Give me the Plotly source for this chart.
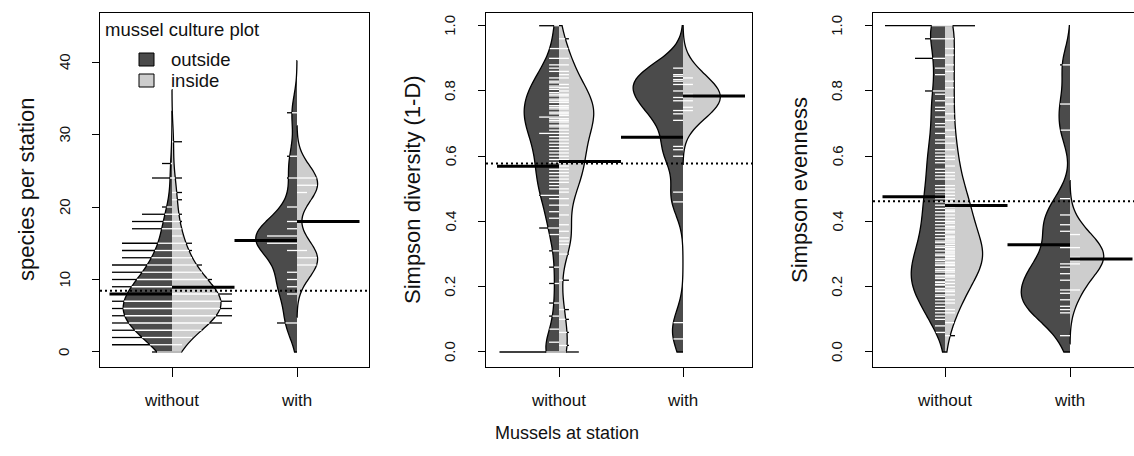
import numpy as np
import plotly.graph_objects as go

W, H = 1134, 456

stations = ["without", "with"]          # mussels at station
culture_plot = ["outside", "inside"]    # position relative to the mussel culture plot

# ---- species per station (integer counts, stored as value / frequency tables) ----
species_wo_out_vals = [0, 1, 2, 3, 4, 5, 6, 7, 8, 9, 10, 11, 12, 13, 14, 15, 17, 18, 19, 20, 24, 26]
species_wo_out_freq = [2, 6, 10, 13, 15, 17, 17, 17, 15, 13, 10, 8, 7, 5, 5, 5, 4, 4, 3, 1, 2, 1]
species_wo_in_vals = [0, 1, 2, 3, 4, 5, 6, 7, 8, 9, 10, 11, 12, 13, 14, 15, 16, 17, 18, 19, 21, 22, 24, 29]
species_wo_in_freq = [1, 1, 2, 3, 5, 7, 8, 8, 7, 5, 4, 3, 3, 2, 2, 2, 1, 1, 1, 1, 1, 1, 1, 1]
species_w_out = [4, 4, 8, 9, 10, 11, 14, 15, 15, 15, 16, 16, 16, 17, 18, 20, 24, 27, 33]
species_w_in = [12, 12, 13, 13, 14, 22, 23, 23, 24, 24]

# ---- Simpson diversity (1-D) ----
simpson_wo_out = [0, 0, 0, 0, 0, 0,
                  0.03, 0.07, 0.11, 0.15, 0.21, 0.26, 0.31, 0.36, 0.38, 0.38,
                  0.41, 0.43, 0.45, 0.47, 0.48, 0.48, 0.50, 0.51, 0.52, 0.53, 0.54, 0.55, 0.56,
                  0.57,
                  0.58, 0.59, 0.60, 0.61, 0.62,
                  0.63, 0.64, 0.65, 0.66, 0.67, 0.67,
                  0.68, 0.69, 0.695, 0.705, 0.71, 0.715, 0.72, 0.72, 0.73,
                  0.735, 0.745, 0.75, 0.755, 0.765, 0.77, 0.775, 0.785, 0.79, 0.795, 0.805,
                  0.81, 0.815, 0.825, 0.83, 0.84, 0.86,
                  0.87, 0.88, 0.90, 0.93, 1.0, 1.0]
simpson_wo_in = [0, 0,
                 0.02, 0.06, 0.10, 0.13, 0.22, 0.30, 0.33, 0.34, 0.35, 0.37, 0.39, 0.42,
                 0.45, 0.47, 0.49, 0.50, 0.52, 0.53, 0.54, 0.55, 0.56, 0.57, 0.58,
                 0.59,
                 0.60, 0.61, 0.62, 0.63, 0.64,
                 0.65, 0.66, 0.67, 0.68, 0.69, 0.695, 0.705,
                 0.71, 0.715, 0.725, 0.73, 0.735, 0.745, 0.75, 0.755, 0.765,
                 0.77, 0.775, 0.785, 0.79, 0.80, 0.81,
                 0.82, 0.84, 0.85, 0.86, 0.88, 0.90, 0.93, 0.96]
simpson_w_out = [0.04, 0.09, 0.46, 0.49, 0.60, 0.62, 0.63, 0.71, 0.73, 0.74,
                 0.77, 0.78, 0.80, 0.82, 0.83, 0.835, 0.845, 0.85, 0.87]
simpson_w_in = [0.74, 0.75, 0.77, 0.78, 0.79, 0.82, 0.84]

# ---- Simpson evenness ----
evenness_wo_out = [0.06, 0.08, 0.10, 0.11, 0.12,
                   0.13, 0.14, 0.15, 0.16, 0.17, 0.175, 0.185,
                   0.19, 0.195, 0.205, 0.207, 0.213, 0.215, 0.225, 0.23, 0.235, 0.245,
                   0.25, 0.255, 0.265, 0.267, 0.273, 0.28, 0.285, 0.295,
                   0.30, 0.31, 0.32, 0.325, 0.335, 0.34,
                   0.35, 0.36, 0.37, 0.38, 0.39,
                   0.40, 0.41, 0.42, 0.43, 0.44,
                   0.45, 0.46, 0.47, 0.48, 0.49,
                   0.50, 0.51, 0.53, 0.54, 0.55, 0.56, 0.58, 0.59,
                   0.60, 0.61, 0.62, 0.64, 0.65, 0.67, 0.69,
                   0.70, 0.72, 0.74, 0.75, 0.77, 0.79, 0.80, 0.80,
                   0.85, 0.87, 0.90, 0.90, 0.90, 0.96, 0.96,
                   1.0, 1.0, 1.0, 1.0, 1.0, 1.0]
evenness_wo_in = [0.05, 0.09, 0.12,
                  0.13, 0.15, 0.16, 0.175, 0.185,
                  0.19, 0.20, 0.21, 0.22, 0.23, 0.235, 0.245,
                  0.25, 0.255, 0.265, 0.267, 0.273, 0.275, 0.285, 0.287, 0.293,
                  0.297, 0.303, 0.307, 0.313, 0.317, 0.323, 0.33, 0.337, 0.343,
                  0.35, 0.355, 0.365, 0.37, 0.38, 0.385, 0.395,
                  0.40, 0.41, 0.42, 0.43, 0.435, 0.445,
                  0.45, 0.46, 0.47, 0.48, 0.49,
                  0.50, 0.51, 0.53, 0.54, 0.55, 0.57, 0.59,
                  0.60, 0.62, 0.64, 0.66, 0.68, 0.71, 0.73, 0.76, 0.78,
                  0.81, 0.83, 0.86, 0.88, 0.91, 0.93, 0.96,
                  1.0, 1.0, 1.0]
evenness_w_out = [0.05, 0.12, 0.13, 0.14, 0.16, 0.18, 0.19, 0.22, 0.24, 0.26,
                  0.27, 0.32, 0.37, 0.39, 0.42, 0.47, 0.68, 0.76, 0.88]
evenness_w_in = [0.19, 0.27, 0.28, 0.29, 0.32, 0.36]

# mean over all stations (dotted reference line), one per panel
all_station_mean = [8.45, 0.578, 0.462]

species_ticks = [0, 10, 20, 30, 40]
index_ticks = [0.0, 0.2, 0.4, 0.6, 0.8, 1.0]

# ---------------------------------------------------------------- styling
FONT = "Liberation Sans, Arial, sans-serif"
INK = "#111111"
FILL = {"outside": "#4b4b4b", "inside": "#cdcdcd"}
SIDE = {"outside": "negative", "inside": "positive"}
SIGN = {"outside": -1, "inside": 1}
TICK_UNIT = 0.08      # bean-line length per observation (x units)
TICK_CAP = 6          # longest bean line, in observations
MEAN_LEN = 0.5        # length of the group-mean line

BOX_TOP, BOX_BOTTOM = 13, 367

panels = [
    dict(title="species per station",
         data={"without": {"outside": np.repeat(species_wo_out_vals, species_wo_out_freq),
                           "inside": np.repeat(species_wo_in_vals, species_wo_in_freq)},
               "with": {"outside": species_w_out, "inside": species_w_in}},
         ticks=species_ticks, fmt="{:d}", yrange=[-2.07, 46.76], bw=2.4, cut=(0, None),
         half={"without": {"outside": 0.39, "inside": 0.39},
               "with": {"outside": 0.33, "inside": 0.165}},
         box=(100, 369), c1=172, step=125),
    dict(title="Simpson diversity (1-D)",
         data={"without": {"outside": simpson_wo_out, "inside": simpson_wo_in},
               "with": {"outside": simpson_w_out, "inside": simpson_w_in}},
         ticks=index_ticks, fmt="{:.1f}", yrange=[-0.046, 1.039], bw=0.055, cut=(0, 1),
         half={"without": {"outside": 0.28, "inside": 0.28},
               "with": {"outside": 0.40, "inside": 0.30}},
         box=(486, 752), c1=559, step=124),
    dict(title="Simpson evenness",
         data={"without": {"outside": evenness_wo_out, "inside": evenness_wo_in},
               "with": {"outside": evenness_w_out, "inside": evenness_w_in}},
         ticks=index_ticks, fmt="{:.1f}", yrange=[-0.046, 1.039], bw=0.055, cut=(0, 1),
         half={"without": {"outside": 0.27, "inside": 0.30},
               "with": {"outside": 0.39, "inside": 0.27}},
         box=(873, 1134), c1=945, step=125),
]


def make_kde(vals, bw):
    vals = np.asarray(vals, float)

    def kde(x):
        u = (np.atleast_1d(np.asarray(x, float))[:, None] - vals[None, :]) / bw
        return np.exp(-0.5 * u * u).sum(axis=1) / (np.sqrt(2 * np.pi) * len(vals) * bw)
    return kde


fig = go.Figure()
annotations = []

for k, p in enumerate(panels):
    sfx = "" if k == 0 else str(k + 1)
    xa, ya = "x" + sfx, "y" + sfx
    bw = p["bw"]
    lo, hi = p["cut"]
    white_x, white_y, black_x, black_y, mean_x, mean_y = [], [], [], [], [], []

    for i, st in enumerate(stations):
        pos = i + 1
        for side in culture_plot:
            vals = np.asarray(p["data"][st][side], float)
            half = p["half"][st][side]
            s0, s1 = vals.min() - 3 * bw, vals.max() + 3 * bw
            if lo is not None:
                s0 = max(s0, lo)
            if hi is not None:
                s1 = min(s1, hi)
            fig.add_trace(go.Violin(
                x=[pos] * len(vals), y=vals, xaxis=xa, yaxis=ya,
                side=SIDE[side], width=2 * half, scalemode="width",
                scalegroup=f"p{k}-{st}-{side}", bandwidth=bw,
                spanmode="manual", span=[s0, s1],
                fillcolor=FILL[side], line=dict(color="black", width=1.3),
                points=False, box_visible=False, meanline_visible=False,
                hoverinfo="skip", showlegend=False, name=f"{st} / {side}"))

            # bean lines: one per distinct value, longer for repeated values;
            # white inside the bean, black where they stick out of it
            kde = make_kde(vals, bw)
            n = int(np.ceil((s1 - s0) / (bw / 3)))
            grid = s0 + (s1 - s0) / n * np.arange(n + 1)
            kmax = kde(grid).max()
            uniq, cnt = np.unique(vals, return_counts=True)
            length = TICK_UNIT * np.minimum(cnt, TICK_CAP)
            hw = kde(uniq) / kmax * half
            inner = np.minimum(length, hw)
            sg = SIGN[side]
            for yv, a, ln in zip(uniq, inner, length):
                white_x += [pos, pos + sg * a, None]
                white_y += [yv, yv, None]
                if ln > a:
                    black_x += [pos + sg * a, pos + sg * ln, None]
                    black_y += [yv, yv, None]
            m = vals.mean()
            mean_x += [pos, pos + sg * MEAN_LEN, None]
            mean_y += [m, m, None]

    fig.add_trace(go.Scatter(x=white_x, y=white_y, xaxis=xa, yaxis=ya, mode="lines",
                             line=dict(color="white", width=1.3), hoverinfo="skip", showlegend=False))
    fig.add_trace(go.Scatter(x=black_x, y=black_y, xaxis=xa, yaxis=ya, mode="lines",
                             line=dict(color="black", width=1.3), hoverinfo="skip", showlegend=False))

    # x range so that the two beans sit at their positions inside the box
    left, right = p["box"]
    x_lo = 1 - (p["c1"] - left) / p["step"]
    x_hi = 2 + (right - (p["c1"] + p["step"])) / p["step"]

    fig.add_trace(go.Scatter(x=[x_lo, x_hi], y=[all_station_mean[k]] * 2, xaxis=xa, yaxis=ya,
                             mode="lines", line=dict(color="black", width=2, dash="2px,3px"),
                             hoverinfo="skip", showlegend=False))
    fig.add_trace(go.Scatter(x=mean_x, y=mean_y, xaxis=xa, yaxis=ya, mode="lines",
                             line=dict(color="black", width=3), hoverinfo="skip", showlegend=False))

    fig.layout["xaxis" + sfx] = dict(
        domain=[left / W, right / W], range=[x_lo, x_hi], anchor=ya,
        tickvals=[1, 2], ticktext=stations, ticks="outside", ticklen=9, tickwidth=1,
        tickcolor="black", showline=True, mirror=True, linecolor="black", linewidth=1,
        showgrid=False, zeroline=False, ticklabelstandoff=9,
        tickfont=dict(family=FONT, size=17, color=INK))
    fig.layout["yaxis" + sfx] = dict(
        domain=[1 - BOX_BOTTOM / H, 1 - BOX_TOP / H], range=p["yrange"], anchor=xa,
        tickvals=p["ticks"], showticklabels=False,
        ticks="outside", ticklen=7, tickwidth=1, tickcolor="black",
        showline=True, mirror=(k < 2), linecolor="black", linewidth=1,
        showgrid=False, zeroline=False)

    # rotated y tick labels, parallel to the axis
    for t in p["ticks"]:
        annotations.append(dict(text=p["fmt"].format(t), x=(left - 36) / W, y=t,
                                xref="paper", yref=ya, textangle=-90, showarrow=False,
                                xanchor="center", yanchor="middle",
                                font=dict(family=FONT, size=15, color=INK)))

    annotations.append(dict(text=p["title"], x=(left - 74) / W, y=1 - 190 / H,
                            xref="paper", yref="paper", textangle=-90, showarrow=False,
                            xanchor="center", yanchor="middle",
                            font=dict(family=FONT, size=22, color=INK)))

# shared x title
annotations.append(dict(text="Mussels at station", x=0.5, y=1 - 433 / H, xref="paper", yref="paper",
                        showarrow=False, xanchor="center", yanchor="middle",
                        font=dict(family=FONT, size=18, color=INK)))

# legend drawn inside the first panel
annotations.append(dict(text="mussel culture plot", x=103 / W, y=1 - 30 / H, xref="paper", yref="paper",
                        showarrow=False, xanchor="left", yanchor="middle",
                        font=dict(family=FONT, size=18.5, color=INK)))
shapes = []
for side, (y0, y1) in zip(culture_plot, [(53, 66), (74, 87)]):
    shapes.append(dict(type="rect", xref="paper", yref="paper",
                       x0=139 / W, x1=154 / W, y0=1 - y1 / H, y1=1 - y0 / H,
                       fillcolor=FILL[side], line=dict(color="black", width=1)))
    annotations.append(dict(text=side, x=169 / W, y=1 - (y0 + y1) / 2 / H, xref="paper", yref="paper",
                            showarrow=False, xanchor="left", yanchor="middle",
                            font=dict(family=FONT, size=18.5, color=INK)))

fig.update_layout(
    width=W, height=H, autosize=False,
    margin=dict(l=0, r=0, t=0, b=0),
    paper_bgcolor="white", plot_bgcolor="white",
    violinmode="overlay", violingap=0, violingroupgap=0,
    annotations=annotations, shapes=shapes,
    showlegend=False, font=dict(family=FONT),
)

fig.write_html("out.html")
